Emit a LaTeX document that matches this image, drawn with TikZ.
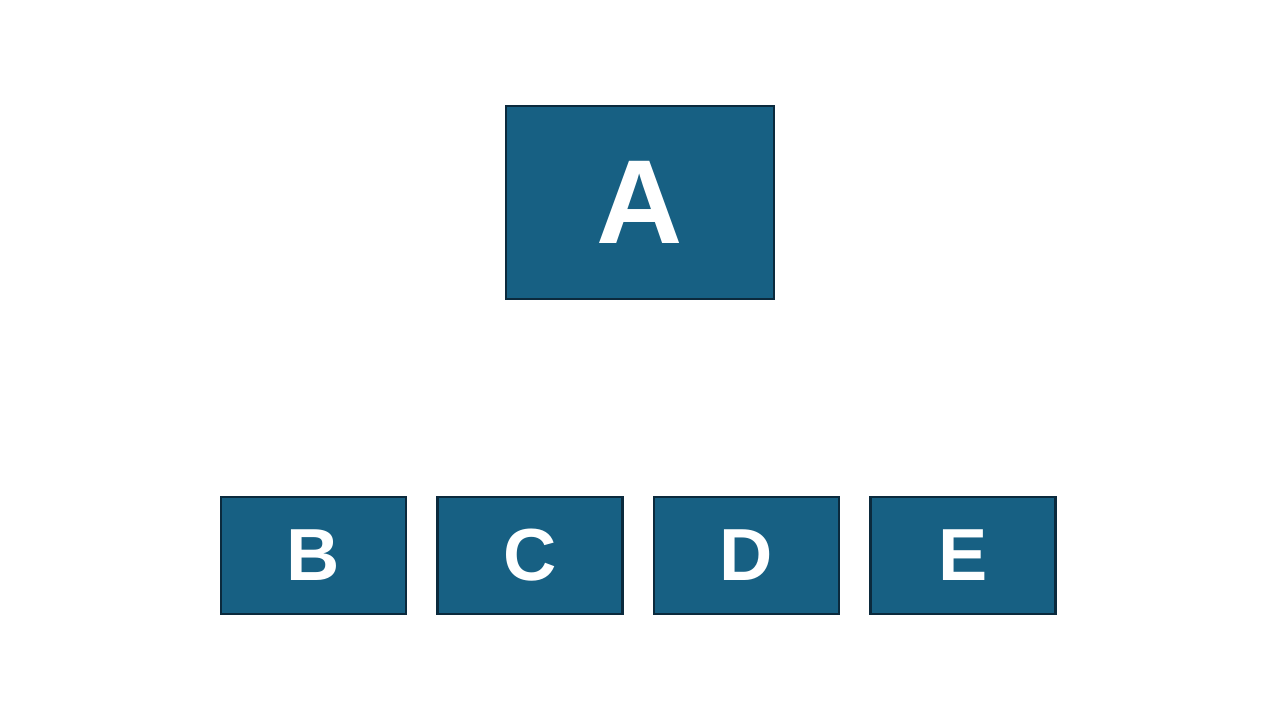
\documentclass[tikz,border=0pt]{standalone}
\usepackage{fontspec}
\setmainfont{Liberation Sans}
\usepackage{xcolor}
\usepackage{tikz}
\definecolor{boxBlue}{HTML}{176083}
\definecolor{boxLine}{HTML}{0B2A3D}
\tikzset{
  rootbox/.style={rectangle, draw=boxLine, fill=boxBlue, line width=0.6pt, text=white, font=\fontsize{34}{38}\selectfont\bfseries, minimum width=2.68cm, minimum height=1.93cm, inner sep=0pt},
  leafbox/.style={rectangle, draw=boxLine, fill=boxBlue, line width=0.6pt, text=white, font=\fontsize{21}{24}\selectfont\bfseries, minimum width=1.85cm, minimum height=1.17cm, inner sep=0pt},
}
\begin{document}
\begin{tikzpicture}[x=1cm,y=1cm]
      \useasboundingbox (0,0) rectangle (12.8,-7.2);

      \node[rootbox] (a) at (6.40,-2.025) {A};

      \node[leafbox] (b) at (3.135,-5.555) {B};
      \node[leafbox] (c) at (5.300,-5.555) {C};
      \node[leafbox] (d) at (7.465,-5.555) {D};
      \node[leafbox] (e) at (9.630,-5.555) {E};
    \end{tikzpicture}
\end{document}
